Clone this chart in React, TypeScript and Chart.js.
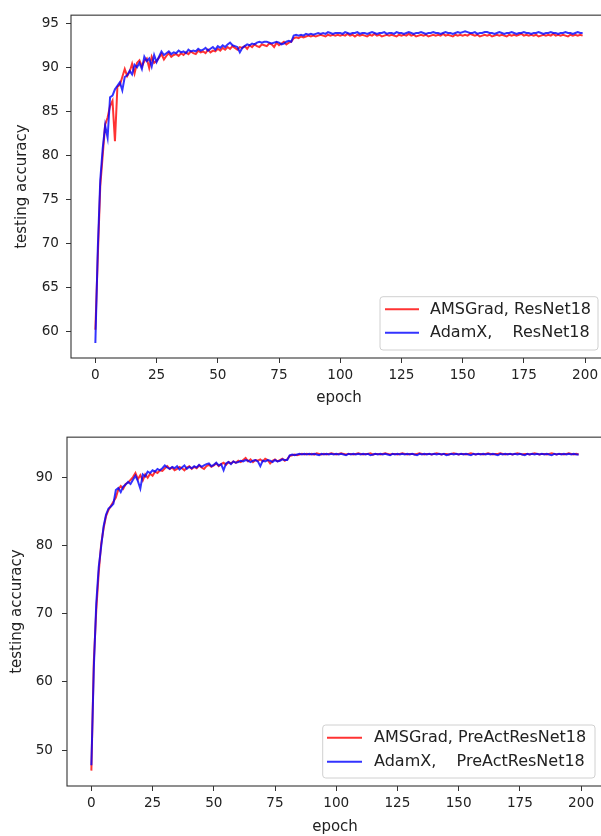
import React, { useEffect, useRef } from "react";
import { Chart, registerables } from "chart.js";

Chart.register(...registerables);

// ---------------- data ----------------
const EPOCHS: number[] = Array.from({ length: 200 }, (_, i) => i);

const X_TICKS = [0, 25, 50, 75, 100, 125, 150, 175, 200];
const TOP_Y_TICKS = [60, 65, 70, 75, 80, 85, 90, 95];
const BOTTOM_Y_TICKS = [50, 60, 70, 80, 90];

const TOP_LABELS = ["AMSGrad, ResNet18", "AdamX,    ResNet18"];
const BOTTOM_LABELS = ["AMSGrad, PreActResNet18", "AdamX,    PreActResNet18"];

const TOP_AMSGRAD = [
  60.2, 68.5, 76.5, 80.0, 83.5, 84.3, 85.6, 86.2, 81.6, 87.8,
  88.0, 88.9, 89.8, 89.0, 89.5, 90.4, 89.3, 90.5, 90.8, 90.1,
  90.7, 91.0, 89.9, 91.2, 90.5, 90.7, 91.1, 91.5, 90.9, 91.3,
  91.6, 91.2, 91.4, 91.5, 91.3, 91.6, 91.4, 91.7, 91.5, 91.8,
  91.6, 91.5, 91.9, 91.7, 91.8, 91.6, 92.0, 91.7, 91.9, 91.8,
  92.1, 91.9, 92.2, 92.0, 92.3, 92.1, 92.4, 92.2, 92.0, 92.3,
  92.2, 92.4, 92.1, 92.5, 92.3, 92.6, 92.4, 92.3, 92.6, 92.5,
  92.4, 92.7, 92.6, 92.3, 92.8, 92.5, 92.7, 92.9, 92.6, 92.8,
  92.9, 93.3, 93.4, 93.3, 93.5, 93.4, 93.5, 93.6, 93.5, 93.6,
  93.5, 93.6, 93.7, 93.6, 93.5, 93.7, 93.6, 93.7, 93.6, 93.7,
  93.6, 93.7, 93.6, 93.8, 93.6, 93.7, 93.5, 93.7, 93.6, 93.7,
  93.6, 93.5, 93.7, 93.6, 93.8, 93.6, 93.7, 93.5, 93.6, 93.7,
  93.6, 93.7, 93.6, 93.5, 93.7, 93.6, 93.7, 93.6, 93.8, 93.6,
  93.7, 93.5, 93.6, 93.7, 93.6, 93.7, 93.5, 93.6, 93.7, 93.6,
  93.7, 93.6, 93.8, 93.6, 93.7, 93.6, 93.5, 93.7, 93.6, 93.7,
  93.6, 93.7, 93.6, 93.8, 93.7, 93.6, 93.7, 93.5, 93.6, 93.7,
  93.6, 93.7, 93.5, 93.6, 93.7, 93.6, 93.7, 93.6, 93.5, 93.7,
  93.6, 93.7, 93.6, 93.7, 93.8, 93.6, 93.7, 93.6, 93.7, 93.6,
  93.7, 93.5, 93.6, 93.7, 93.6, 93.7, 93.6, 93.8, 93.6, 93.7,
  93.6, 93.7, 93.6, 93.5, 93.7, 93.6, 93.7, 93.6, 93.7, 93.6,
];

const TOP_ADAMX = [
  58.7, 69.5, 77.2, 80.8, 83.4, 82.0, 86.6, 86.8, 87.5, 87.9,
  88.3, 87.4, 88.9, 89.1, 89.6, 89.2, 90.3, 90.0, 90.5, 89.8,
  91.2, 90.7, 91.0, 90.1, 91.4, 90.6, 91.2, 91.8, 91.4, 91.6,
  91.8, 91.5, 91.7, 91.6, 91.9, 91.7, 91.8, 91.6, 92.0, 91.8,
  91.9, 91.8, 92.1, 91.9, 92.0, 92.2, 91.9, 92.1, 92.3, 92.0,
  92.4, 92.2, 92.5, 92.3, 92.6, 92.8, 92.5, 92.4, 92.3, 91.7,
  92.2, 92.4, 92.6, 92.5, 92.7, 92.6, 92.8, 92.9, 92.8, 92.9,
  92.9, 92.8, 92.7, 92.8, 92.9, 92.8, 92.6, 92.7, 92.9, 93.0,
  92.9, 93.6, 93.7, 93.6, 93.7, 93.6, 93.8, 93.7, 93.8, 93.7,
  93.8, 93.9, 93.8, 93.9, 93.8, 94.0, 93.9, 93.8, 93.9, 93.9,
  93.9, 93.8, 94.0, 93.9, 93.8, 93.9, 93.9, 94.0, 93.8, 93.9,
  93.9, 93.8, 93.9, 94.0, 93.9, 93.8, 93.9, 93.9, 94.0, 93.8,
  93.9, 93.9, 93.8, 94.0, 93.9, 93.9, 93.8, 93.9, 94.0, 93.9,
  93.8, 93.9, 93.9, 94.0, 93.9, 93.8, 93.9, 93.9, 94.0, 93.9,
  93.9, 93.8, 93.9, 94.0, 93.9, 93.9, 93.8, 93.9, 94.0, 93.9,
  94.0, 94.1, 94.0, 93.9, 93.9, 94.0, 93.8, 93.9, 93.9, 94.0,
  94.0, 93.9, 93.9, 93.8, 93.9, 94.0, 93.9, 93.8, 93.9, 93.9,
  94.0, 93.9, 93.8, 93.9, 93.9, 94.0, 93.9, 93.9, 93.8, 93.9,
  93.9, 94.0, 93.9, 93.8, 93.9, 93.9, 94.0, 93.9, 93.9, 93.8,
  93.9, 93.9, 94.0, 93.9, 93.9, 93.8, 93.9, 94.0, 93.9, 93.9,
];

const BOTTOM_AMSGRAD = [
  47.0, 63.0, 70.5, 76.0, 80.2, 82.5, 84.3, 85.2, 85.8, 86.4,
  87.0, 88.2, 88.7, 88.3, 89.0, 89.2, 89.6, 90.0, 90.6, 89.7,
  90.3, 89.5, 90.4, 89.9, 90.5, 90.2, 90.8, 90.6, 91.0, 90.9,
  91.3, 91.6, 91.2, 91.4, 91.0, 91.2, 91.5, 91.3, 91.0, 91.4,
  91.6, 91.2, 91.5, 91.3, 91.7, 91.4, 91.2, 91.6, 91.8, 91.5,
  91.7, 92.0, 91.6, 91.9, 92.1, 91.8, 92.2, 92.0, 92.3, 92.1,
  92.4, 92.2, 92.5, 92.8, 92.3, 92.6, 92.2, 92.5, 92.4, 92.6,
  92.3, 92.7, 92.5, 92.0, 92.4, 92.6, 92.3, 92.5, 92.7, 92.4,
  92.6, 93.1, 93.2, 93.3, 93.2, 93.3, 93.4, 93.3, 93.4, 93.3,
  93.4, 93.3, 93.5, 93.4, 93.3, 93.4, 93.3, 93.4, 93.5, 93.4,
  93.3, 93.4, 93.5, 93.4, 93.3, 93.4, 93.4, 93.3, 93.4, 93.5,
  93.4, 93.3, 93.4, 93.4, 93.5, 93.3, 93.4, 93.4, 93.3, 93.4,
  93.5, 93.4, 93.3, 93.4, 93.4, 93.3, 93.4, 93.5, 93.4, 93.3,
  93.4, 93.4, 93.3, 93.4, 93.5, 93.4, 93.3, 93.4, 93.4, 93.3,
  93.4, 93.5, 93.4, 93.3, 93.4, 93.4, 93.3, 93.4, 93.5, 93.4,
  93.3, 93.4, 93.4, 93.3, 93.4, 93.5, 93.4, 93.3, 93.4, 93.4,
  93.3, 93.4, 93.5, 93.4, 93.3, 93.4, 93.4, 93.5, 93.4, 93.3,
  93.4, 93.4, 93.3, 93.4, 93.5, 93.4, 93.3, 93.4, 93.4, 93.3,
  93.4, 93.5, 93.4, 93.3, 93.4, 93.4, 93.3, 93.4, 93.5, 93.4,
  93.3, 93.4, 93.4, 93.3, 93.4, 93.5, 93.4, 93.3, 93.4, 93.3,
];

const BOTTOM_ADAMX = [
  47.8, 62.0, 71.5, 76.8, 79.8, 82.8, 84.5, 85.4, 85.7, 86.1,
  88.1, 88.4, 87.8, 88.6, 88.9, 89.3, 89.0, 89.6, 90.2, 89.4,
  88.3, 90.4, 90.1, 90.8, 90.6, 91.0, 90.8, 91.2, 91.0, 91.3,
  91.7, 91.4, 91.2, 91.5, 91.3, 91.6, 91.1, 91.4, 91.7, 91.2,
  91.5, 91.3, 91.6, 91.4, 91.8, 91.5, 91.7, 91.9, 92.0, 91.6,
  91.8, 92.1, 91.7, 91.9, 91.0, 92.0, 92.2, 91.9, 92.3, 92.1,
  92.2, 92.4, 92.3, 92.5, 92.4, 92.2, 92.4, 92.5, 92.3, 91.6,
  92.4, 92.3, 92.5, 92.4, 92.2, 92.5, 92.3, 92.4, 92.6, 92.5,
  92.5, 93.2, 93.3, 93.2, 93.3, 93.4, 93.3, 93.4, 93.3, 93.4,
  93.3, 93.4, 93.3, 93.2, 93.4, 93.3, 93.4, 93.3, 93.4, 93.3,
  93.4, 93.3, 93.4, 93.3, 93.2, 93.4, 93.3, 93.4, 93.3, 93.4,
  93.3, 93.4, 93.3, 93.4, 93.2, 93.3, 93.4, 93.3, 93.4, 93.3,
  93.4, 93.3, 93.2, 93.4, 93.3, 93.4, 93.3, 93.4, 93.3, 93.4,
  93.3, 93.4, 93.3, 93.2, 93.4, 93.3, 93.4, 93.3, 93.4, 93.3,
  93.4, 93.3, 93.4, 93.3, 93.4, 93.2, 93.3, 93.4, 93.3, 93.4,
  93.3, 93.4, 93.3, 93.4, 93.3, 93.2, 93.4, 93.3, 93.4, 93.3,
  93.4, 93.3, 93.4, 93.3, 93.4, 93.3, 93.2, 93.4, 93.3, 93.4,
  93.3, 93.4, 93.3, 93.4, 93.3, 93.4, 93.3, 93.2, 93.4, 93.3,
  93.4, 93.3, 93.4, 93.3, 93.4, 93.3, 93.4, 93.3, 93.2, 93.4,
  93.3, 93.4, 93.3, 93.4, 93.3, 93.4, 93.3, 93.4, 93.3, 93.3,
];

// ---------------- styling ----------------
const FONT = "'DejaVu Sans', sans-serif";
const TEXT = "#222222";
const RED = "rgba(255,0,0,0.8)";
const BLUE = "rgba(0,0,255,0.8)";

type LegendGeom = {
  box: [number, number, number, number];
  lineX: [number, number];
  rows: [number, number];
  textX: number;
};

type PanelProps = {
  top: number;
  width: number;
  height: number;
  red: number[];
  blue: number[];
  labels: string[];
  yMin: number;
  yMax: number;
  yTicks: number[];
  padTop: number;
  padRight: number;
  yWidth: number;
  xHeight: number;
  yTitlePad: number;
  yTickPad: number;
  xTitlePadBottom: number;
  legend: LegendGeom;
};

function Panel(p: PanelProps) {
  const ref = useRef<HTMLCanvasElement | null>(null);

  useEffect(() => {
    if (!ref.current) return;

    const framePlugin = {
      id: "frame",
      afterDraw(chart: any) {
        const { ctx, chartArea: a } = chart;
        ctx.save();
        ctx.strokeStyle = "#333333";
        ctx.lineWidth = 1.1;
        ctx.strokeRect(a.left, a.top, a.right - a.left, a.bottom - a.top);
        ctx.restore();
      },
    };

    const legendPlugin = {
      id: "mplLegend",
      afterDraw(chart: any) {
        const { ctx } = chart;
        const g = p.legend;
        ctx.save();
        const [bx, by, bw, bh] = g.box;
        ctx.beginPath();
        if ((ctx as any).roundRect) (ctx as any).roundRect(bx, by, bw, bh, 3);
        else ctx.rect(bx, by, bw, bh);
        ctx.fillStyle = "rgba(255,255,255,0.8)";
        ctx.fill();
        ctx.strokeStyle = "#d0d0d0";
        ctx.lineWidth = 1;
        ctx.stroke();
        chart.data.datasets.forEach((ds: any, i: number) => {
          const y = g.rows[i];
          ctx.beginPath();
          ctx.moveTo(g.lineX[0], y);
          ctx.lineTo(g.lineX[1], y);
          ctx.strokeStyle = ds.borderColor;
          ctx.lineWidth = 2;
          ctx.stroke();
          ctx.fillStyle = TEXT;
          ctx.font = `16px ${FONT}`;
          ctx.textBaseline = "middle";
          ctx.textAlign = "left";
          ctx.fillText(ds.label, g.textX, y + 0.5);
        });
        ctx.restore();
      },
    };

    const chart = new Chart(ref.current, {
      type: "line",
      data: {
        datasets: [
          {
            label: p.labels[0],
            data: EPOCHS.map((e, i) => ({ x: e, y: p.red[i] })),
            borderColor: RED,
            borderWidth: 2,
            pointRadius: 0,
            order: 2,
          },
          {
            label: p.labels[1],
            data: EPOCHS.map((e, i) => ({ x: e, y: p.blue[i] })),
            borderColor: BLUE,
            borderWidth: 2,
            pointRadius: 0,
            order: 1,
          },
        ],
      },
      options: {
        animation: false,
        responsive: false,
        devicePixelRatio: 1,
        layout: { padding: { top: p.padTop, right: p.padRight, left: 0, bottom: 0 } },
        plugins: { legend: { display: false }, tooltip: { enabled: false } },
        elements: { line: { tension: 0 }, point: { radius: 0 } },
        scales: {
          x: {
            type: "linear",
            min: -9.95,
            max: 208.95,
            afterBuildTicks: (s: any) => {
              s.ticks = X_TICKS.map((v) => ({ value: v }));
            },
            afterFit: (s: any) => {
              s.height = p.xHeight;
            },
            ticks: {
              autoSkip: false,
              maxRotation: 0,
              padding: 4,
              color: TEXT,
              font: { family: FONT, size: 13.6 },
            },
            grid: {
              drawOnChartArea: false,
              drawTicks: true,
              tickLength: 5,
              color: "#333333",
            },
            border: { display: false },
            title: {
              display: true,
              text: "epoch",
              color: TEXT,
              font: { family: FONT, size: 15 },
              padding: { top: 0, bottom: p.xTitlePadBottom },
            },
          },
          y: {
            type: "linear",
            min: p.yMin,
            max: p.yMax,
            afterBuildTicks: (s: any) => {
              s.ticks = p.yTicks.map((v) => ({ value: v }));
            },
            afterFit: (s: any) => {
              s.width = p.yWidth;
            },
            ticks: {
              autoSkip: false,
              padding: p.yTickPad,
              color: TEXT,
              font: { family: FONT, size: 13.6 },
            },
            grid: {
              drawOnChartArea: false,
              drawTicks: true,
              tickLength: 5,
              color: "#333333",
            },
            border: { display: false },
            title: {
              display: true,
              text: "testing accuracy",
              color: TEXT,
              font: { family: FONT, size: 15 },
              padding: { top: p.yTitlePad, bottom: 0 },
            },
          },
        },
      },
      plugins: [framePlugin, legendPlugin],
    } as any);

    return () => chart.destroy();
  }, []);

  return (
    <canvas
      ref={ref}
      width={p.width}
      height={p.height}
      style={{
        position: "absolute",
        left: 0,
        top: p.top,
        width: p.width,
        height: p.height,
      }}
    />
  );
}

export default function App() {
  return (
    <div
      style={{
        position: "fixed",
        left: 0,
        top: 0,
        width: 601,
        height: 836,
        overflow: "hidden",
        background: "#ffffff",
      }}
    >
      <Panel
        top={0}
        width={620}
        height={410}
        red={TOP_AMSGRAD}
        blue={TOP_ADAMX}
        labels={TOP_LABELS}
        yMin={57.0}
        yMax={95.92}
        yTicks={TOP_Y_TICKS}
        padTop={8}
        padRight={13}
        yWidth={71}
        xHeight={52}
        yTitlePad={13}
        yTickPad={7}
        xTitlePadBottom={3}
        legend={{ box: [380, 296.7, 218, 53.3], lineX: [385, 419], rows: [309.3, 332.7], textX: 430 }}
      />
      <Panel
        top={420}
        width={620}
        height={416}
        red={BOTTOM_AMSGRAD}
        blue={BOTTOM_ADAMX}
        labels={BOTTOM_LABELS}
        yMin={44.75}
        yMax={95.85}
        yTicks={BOTTOM_Y_TICKS}
        padTop={16.7}
        padRight={17}
        yWidth={67}
        xHeight={50}
        yTitlePad={8}
        yTickPad={9}
        xTitlePadBottom={0}
        legend={{ box: [322.7, 305, 272.3, 53], lineX: [327, 362], rows: [317.7, 341.7], textX: 374 }}
      />
    </div>
  );
}
